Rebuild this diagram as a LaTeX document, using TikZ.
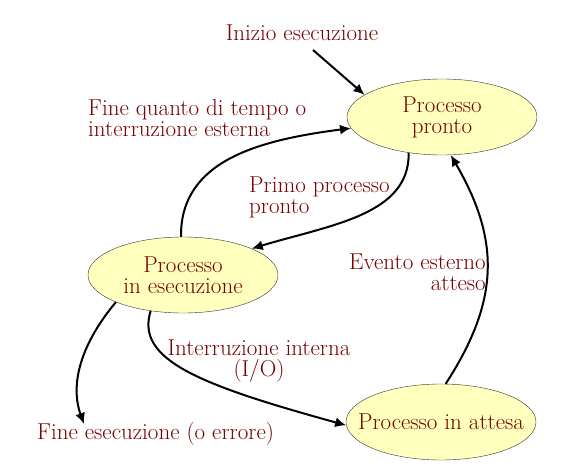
\documentclass[tikz,border=0pt]{standalone}
\usepackage{xcolor}
\usetikzlibrary{shapes.geometric, arrows.meta, positioning}

\definecolor{labelred}{RGB}{120,0,0}
\definecolor{statefill}{RGB}{255,255,190}

\tikzset{
  state/.style={draw=black!80, ellipse, fill=statefill, text=labelred,
    minimum width=190pt, minimum height=76pt, inner sep=0pt, align=center,
    font=\fontsize{23}{21}\selectfont},
  lbl/.style={text=labelred, inner sep=0pt, font=\fontsize{23}{21}\selectfont},
  trans/.style={-{Latex[length=11pt,width=10pt]}, line width=2pt}
}

\begin{document}
\begin{tikzpicture}[x=1pt, y=-1pt]
    \useasboundingbox (0,0) rectangle (579,474);
    \node[state] (pronto) at (442,117) {Processo\\pronto};
    \node[state] (esec) at (183,275) {Processo\\in esecuzione};
    \node[state, inner xsep=-17pt] (attesa) at (441,422) {Processo in attesa};

    \node[lbl] (inizio) at (302,33) {Inizio esecuzione};
    \node[lbl, align=left, anchor=west] (quanto) at (88,118) {Fine quanto di tempo o\\interruzione esterna};
    \node[lbl, align=left, anchor=west] (primo) at (249,197) {Primo processo\\pronto};
    \node[lbl, align=right, anchor=east] (evento) at (486,272) {Evento esterno\\atteso};
    \node[lbl, align=center] (interna) at (259,361) {Interruzione interna\\(I/O)};
    \node[lbl, anchor=west] (fine) at (37,434) {Fine esecuzione (o errore)};

    \coordinate (iniziostart) at (313,50);
    \coordinate (fineend) at (84,424);

    \draw[trans] (iniziostart) -- (pronto.164);
    \draw[trans] (esec.93) .. controls (180,160) and (260,140) .. (pronto.187);
    \draw[trans] (pronto.227) .. controls (410,215) and (330,225) .. (esec.21);
    \draw[trans] (attesa.83) .. controls (500,300) and (500,240) .. (pronto.283);
    \draw[trans] (esec.228) .. controls (135,360) and (200,385) .. (attesa.182);
    \draw[trans] (esec.202) .. controls (80,345) and (70,385) .. (fineend);
\end{tikzpicture}
\end{document}
